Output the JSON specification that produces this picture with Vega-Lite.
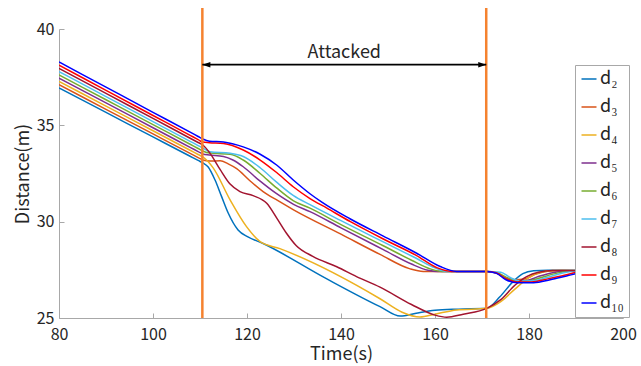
{
  "$schema": "https://vega.github.io/schema/vega-lite/v6.json",
  "width": 564,
  "height": 289,
  "autosize": {"type": "none"},
  "padding": {"left": 59, "top": 29, "right": 18, "bottom": 48},
  "config": {
    "view": {"stroke": null},
    "font": "Noto Sans CJK JP",
    "axis": {
      "domainColor": "#a8a8a8",
      "tickColor": "#a8a8a8",
      "tickSize": -5,
      "grid": false,
      "labelColor": "#262626",
      "titleColor": "#262626",
      "labelFont": "Noto Sans CJK JP",
      "titleFont": "Noto Sans CJK JP",
      "labelFontSize": 16,
      "titleFontSize": 18,
      "titleFontWeight": "normal"
    }
  },
  "datasets": {
    "series": [
      {"s":"d₂","t":80,"d":36.94},{"s":"d₂","t":90,"d":35.669},{"s":"d₂","t":100,"d":34.398},{"s":"d₂","t":108,"d":33.381},{"s":"d₂","t":109.6,"d":33.177},{"s":"d₂","t":110.6,"d":33.05},{"s":"d₂","t":111.7,"d":32.85},{"s":"d₂","t":113.2,"d":32.16},{"s":"d₂","t":114.6,"d":31.3},{"s":"d₂","t":116,"d":30.45},{"s":"d₂","t":118.1,"d":29.57},{"s":"d₂","t":120.2,"d":29.21},{"s":"d₂","t":123.2,"d":28.89},{"s":"d₂","t":136.6,"d":27.08},{"s":"d₂","t":148.3,"d":25.59},{"s":"d₂","t":152.6,"d":25.1},{"s":"d₂","t":156,"d":25.25},{"s":"d₂","t":160,"d":25.4},{"s":"d₂","t":165,"d":25.46},{"s":"d₂","t":171,"d":25.5},{"s":"d₂","t":173.8,"d":26.1},{"s":"d₂","t":176.6,"d":26.89},{"s":"d₂","t":178.7,"d":27.3},{"s":"d₂","t":181,"d":27.45},{"s":"d₂","t":184,"d":27.48},{"s":"d₂","t":200,"d":27.47},
      {"s":"d₃","t":80,"d":37.11},{"s":"d₃","t":90,"d":35.832},{"s":"d₃","t":100,"d":34.554},{"s":"d₃","t":108,"d":33.532},{"s":"d₃","t":109.6,"d":33.328},{"s":"d₃","t":110.6,"d":33.2},{"s":"d₃","t":112.1,"d":33.15},{"s":"d₃","t":114.3,"d":33.16},{"s":"d₃","t":116,"d":33.0},{"s":"d₃","t":117.8,"d":32.75},{"s":"d₃","t":120.5,"d":32.15},{"s":"d₃","t":123.5,"d":31.55},{"s":"d₃","t":126.5,"d":31.1},{"s":"d₃","t":130,"d":30.6},{"s":"d₃","t":140,"d":29.35},{"s":"d₃","t":148.3,"d":28.3},{"s":"d₃","t":154.7,"d":27.55},{"s":"d₃","t":157.5,"d":27.42},{"s":"d₃","t":171,"d":27.42},{"s":"d₃","t":173,"d":27.35},{"s":"d₃","t":175,"d":27.12},{"s":"d₃","t":177,"d":26.98},{"s":"d₃","t":179,"d":27.02},{"s":"d₃","t":181.5,"d":27.28},{"s":"d₃","t":184,"d":27.42},{"s":"d₃","t":187,"d":27.46},{"s":"d₃","t":200,"d":27.45},
      {"s":"d₄","t":80,"d":37.28},{"s":"d₄","t":90,"d":35.999},{"s":"d₄","t":100,"d":34.718},{"s":"d₄","t":108,"d":33.693},{"s":"d₄","t":109.6,"d":33.488},{"s":"d₄","t":110.6,"d":33.36},{"s":"d₄","t":112.8,"d":32.79},{"s":"d₄","t":116.4,"d":31.13},{"s":"d₄","t":119.9,"d":29.74},{"s":"d₄","t":122.8,"d":28.96},{"s":"d₄","t":127,"d":28.6},{"s":"d₄","t":148.3,"d":26.0},{"s":"d₄","t":153,"d":25.3},{"s":"d₄","t":156.8,"d":25.05},{"s":"d₄","t":160,"d":25.2},{"s":"d₄","t":164.6,"d":25.42},{"s":"d₄","t":171,"d":25.5},{"s":"d₄","t":174,"d":25.85},{"s":"d₄","t":177,"d":26.5},{"s":"d₄","t":180,"d":27.1},{"s":"d₄","t":182.5,"d":27.38},{"s":"d₄","t":185,"d":27.46},{"s":"d₄","t":200,"d":27.45},
      {"s":"d₅","t":80,"d":37.45},{"s":"d₅","t":90,"d":36.162},{"s":"d₅","t":100,"d":34.875},{"s":"d₅","t":108,"d":33.845},{"s":"d₅","t":109.6,"d":33.639},{"s":"d₅","t":110.6,"d":33.51},{"s":"d₅","t":112,"d":33.46},{"s":"d₅","t":115,"d":33.38},{"s":"d₅","t":117,"d":33.2},{"s":"d₅","t":119.2,"d":32.85},{"s":"d₅","t":122.8,"d":32.1},{"s":"d₅","t":126.3,"d":31.45},{"s":"d₅","t":129.9,"d":30.9},{"s":"d₅","t":133.4,"d":30.52},{"s":"d₅","t":140,"d":29.68},{"s":"d₅","t":149,"d":28.55},{"s":"d₅","t":155,"d":27.8},{"s":"d₅","t":158.5,"d":27.48},{"s":"d₅","t":160.5,"d":27.42},{"s":"d₅","t":171,"d":27.42},{"s":"d₅","t":173,"d":27.33},{"s":"d₅","t":175,"d":27.08},{"s":"d₅","t":177,"d":26.93},{"s":"d₅","t":179.5,"d":26.95},{"s":"d₅","t":182,"d":27.15},{"s":"d₅","t":185,"d":27.35},{"s":"d₅","t":188,"d":27.44},{"s":"d₅","t":200,"d":27.45},
      {"s":"d₆","t":80,"d":37.62},{"s":"d₆","t":90,"d":36.329},{"s":"d₆","t":100,"d":35.038},{"s":"d₆","t":108,"d":34.006},{"s":"d₆","t":109.6,"d":33.799},{"s":"d₆","t":110.6,"d":33.67},{"s":"d₆","t":112,"d":33.56},{"s":"d₆","t":116.4,"d":33.5},{"s":"d₆","t":119.2,"d":33.2},{"s":"d₆","t":122.8,"d":32.5},{"s":"d₆","t":126.3,"d":31.75},{"s":"d₆","t":129.9,"d":31.08},{"s":"d₆","t":133.4,"d":30.7},{"s":"d₆","t":140,"d":29.85},{"s":"d₆","t":149,"d":28.75},{"s":"d₆","t":155,"d":28.0},{"s":"d₆","t":159,"d":27.55},{"s":"d₆","t":161.5,"d":27.42},{"s":"d₆","t":171,"d":27.42},{"s":"d₆","t":173.5,"d":27.33},{"s":"d₆","t":175.5,"d":27.05},{"s":"d₆","t":178,"d":26.9},{"s":"d₆","t":180.5,"d":26.95},{"s":"d₆","t":183,"d":27.13},{"s":"d₆","t":186,"d":27.33},{"s":"d₆","t":189,"d":27.44},{"s":"d₆","t":200,"d":27.45},
      {"s":"d₇","t":80,"d":37.79},{"s":"d₇","t":90,"d":36.493},{"s":"d₇","t":100,"d":35.195},{"s":"d₇","t":108,"d":34.157},{"s":"d₇","t":109.6,"d":33.95},{"s":"d₇","t":110.6,"d":33.82},{"s":"d₇","t":112.1,"d":33.63},{"s":"d₇","t":116.4,"d":33.55},{"s":"d₇","t":119.2,"d":33.38},{"s":"d₇","t":122.8,"d":32.8},{"s":"d₇","t":126.3,"d":32.05},{"s":"d₇","t":129.9,"d":31.35},{"s":"d₇","t":133.4,"d":30.88},{"s":"d₇","t":140,"d":30.05},{"s":"d₇","t":149,"d":28.95},{"s":"d₇","t":156,"d":28.1},{"s":"d₇","t":160,"d":27.6},{"s":"d₇","t":162.5,"d":27.42},{"s":"d₇","t":171,"d":27.42},{"s":"d₇","t":174,"d":27.38},{"s":"d₇","t":176,"d":27.1},{"s":"d₇","t":178,"d":26.92},{"s":"d₇","t":181,"d":26.93},{"s":"d₇","t":184,"d":27.12},{"s":"d₇","t":187,"d":27.32},{"s":"d₇","t":190,"d":27.44},{"s":"d₇","t":200,"d":27.45},
      {"s":"d₈","t":80,"d":37.96},{"s":"d₈","t":90,"d":36.659},{"s":"d₈","t":100,"d":35.359},{"s":"d₈","t":108,"d":34.318},{"s":"d₈","t":109.6,"d":34.11},{"s":"d₈","t":110.6,"d":33.98},{"s":"d₈","t":112.1,"d":33.56},{"s":"d₈","t":114.3,"d":32.7},{"s":"d₈","t":116.4,"d":31.95},{"s":"d₈","t":118.5,"d":31.56},{"s":"d₈","t":121.3,"d":31.35},{"s":"d₈","t":124.2,"d":30.95},{"s":"d₈","t":126.3,"d":30.2},{"s":"d₈","t":128.4,"d":29.4},{"s":"d₈","t":130.5,"d":28.75},{"s":"d₈","t":134,"d":28.2},{"s":"d₈","t":139.1,"d":27.66},{"s":"d₈","t":143.3,"d":27.15},{"s":"d₈","t":148.3,"d":26.6},{"s":"d₈","t":155,"d":25.7},{"s":"d₈","t":160,"d":25.15},{"s":"d₈","t":162.5,"d":25.04},{"s":"d₈","t":166,"d":25.2},{"s":"d₈","t":171,"d":25.5},{"s":"d₈","t":174,"d":25.95},{"s":"d₈","t":177,"d":26.7},{"s":"d₈","t":179.5,"d":27.15},{"s":"d₈","t":182,"d":27.38},{"s":"d₈","t":185,"d":27.46},{"s":"d₈","t":200,"d":27.45},
      {"s":"d₉","t":80,"d":38.12},{"s":"d₉","t":90,"d":36.816},{"s":"d₉","t":100,"d":35.512},{"s":"d₉","t":108,"d":34.469},{"s":"d₉","t":109.6,"d":34.26},{"s":"d₉","t":110.6,"d":34.13},{"s":"d₉","t":112,"d":34.1},{"s":"d₉","t":115,"d":34.06},{"s":"d₉","t":119.2,"d":33.72},{"s":"d₉","t":122.8,"d":33.2},{"s":"d₉","t":126.3,"d":32.55},{"s":"d₉","t":129.9,"d":31.8},{"s":"d₉","t":133.4,"d":31.2},{"s":"d₉","t":137,"d":30.7},{"s":"d₉","t":142,"d":30.0},{"s":"d₉","t":149,"d":29.1},{"s":"d₉","t":156,"d":28.25},{"s":"d₉","t":160.5,"d":27.6},{"s":"d₉","t":163.5,"d":27.42},{"s":"d₉","t":171,"d":27.42},{"s":"d₉","t":173,"d":27.35},{"s":"d₉","t":175,"d":27.05},{"s":"d₉","t":177.5,"d":26.87},{"s":"d₉","t":180.5,"d":26.87},{"s":"d₉","t":184,"d":27.03},{"s":"d₉","t":187.5,"d":27.22},{"s":"d₉","t":191,"d":27.4},{"s":"d₉","t":200,"d":27.45},
      {"s":"d₁₀","t":80,"d":38.29},{"s":"d₁₀","t":90,"d":36.983},{"s":"d₁₀","t":100,"d":35.676},{"s":"d₁₀","t":108,"d":34.631},{"s":"d₁₀","t":109.6,"d":34.421},{"s":"d₁₀","t":110.6,"d":34.29},{"s":"d₁₀","t":112,"d":34.18},{"s":"d₁₀","t":115,"d":34.14},{"s":"d₁₀","t":119.2,"d":33.88},{"s":"d₁₀","t":122.8,"d":33.5},{"s":"d₁₀","t":126.3,"d":32.94},{"s":"d₁₀","t":129.9,"d":32.15},{"s":"d₁₀","t":133.4,"d":31.45},{"s":"d₁₀","t":136,"d":31.0},{"s":"d₁₀","t":141.9,"d":30.15},{"s":"d₁₀","t":149,"d":29.25},{"s":"d₁₀","t":156.1,"d":28.36},{"s":"d₁₀","t":161.1,"d":27.67},{"s":"d₁₀","t":164.6,"d":27.42},{"s":"d₁₀","t":171,"d":27.42},{"s":"d₁₀","t":173,"d":27.33},{"s":"d₁₀","t":175,"d":27.0},{"s":"d₁₀","t":177.5,"d":26.83},{"s":"d₁₀","t":181,"d":26.83},{"s":"d₁₀","t":184.5,"d":26.98},{"s":"d₁₀","t":188,"d":27.18},{"s":"d₁₀","t":191.5,"d":27.38},{"s":"d₁₀","t":195,"d":27.45},{"s":"d₁₀","t":200,"d":27.45}
    ],
    "attack": [{"t": 110.5}, {"t": 170.9}],
    "arrow": [{"t1": 110.5, "t2": 170.9, "d": 38.15}],
    "heads": [{"t": 110.5, "d": 38.15, "k": "left"}, {"t": 170.9, "d": 38.15, "k": "right"}],
    "label": [{"t": 140.7, "d": 38.5, "txt": "Attacked"}]
  },
  "layer": [
    {
      "data": {"name": "series"},
      "mark": {"type": "line", "interpolate": "monotone", "strokeWidth": 1.5, "clip": true},
      "encoding": {
        "x": {"field": "t", "type": "quantitative", "scale": {"domain": [80, 200], "nice": false, "zero": false},
              "axis": {"values": [80, 100, 120, 140, 160, 180, 200], "title": "Time(s)", "labelPadding": 13, "titlePadding": 3, "labelFlush": false}},
        "y": {"field": "d", "type": "quantitative", "scale": {"domain": [25, 40], "nice": false, "zero": false},
              "axis": {"values": [25, 30, 35, 40], "title": "Distance(m)", "labelPadding": 10, "titlePadding": 4}},
        "color": {
          "field": "s", "type": "nominal",
          "scale": {"domain": ["d₂","d₃","d₄","d₅","d₆","d₇","d₈","d₉","d₁₀"],
                    "range": ["#0072BD","#D95319","#EDB120","#7E2F8E","#77AC30","#4DBEEE","#A2142F","#FF0000","#0000FF"]},
          "legend": {
            "orient": "none", "legendX": 516, "legendY": 36, "title": null,
            "symbolType": "stroke", "symbolSize": 225, "symbolStrokeWidth": 1.5,
            "labelFontSize": 18, "labelFont": "Noto Sans CJK JP", "labelColor": "#262626", "labelOffset": 2,
            "rowPadding": 10, "padding": 5, "fillColor": "white", "strokeColor": "#a8a8a8"
          }
        },
        "order": {"field": "t", "type": "quantitative"}
      }
    },
    {
      "data": {"name": "attack"},
      "mark": {"type": "rule", "color": "#F5822F", "strokeWidth": 2.5},
      "encoding": {
        "x": {"field": "t", "type": "quantitative"},
        "y": {"datum": 25},
        "y2": {"datum": 41.09}
      }
    },
    {
      "data": {"name": "arrow"},
      "mark": {"type": "rule", "color": "black", "strokeWidth": 1.8},
      "encoding": {
        "x": {"field": "t1", "type": "quantitative"},
        "x2": {"field": "t2"},
        "y": {"field": "d", "type": "quantitative"}
      }
    },
    {
      "data": {"name": "heads"},
      "mark": {"type": "point", "filled": true, "color": "black", "size": 25, "opacity": 1},
      "encoding": {
        "x": {"field": "t", "type": "quantitative"},
        "y": {"field": "d", "type": "quantitative"},
        "shape": {"field": "k", "type": "nominal",
                  "scale": {"domain": ["left", "right"], "range": ["M0,0L3.2,-1.1L3.2,1.1Z", "M0,0L-3.2,-1.1L-3.2,1.1Z"]},
                  "legend": null}
      }
    },
    {
      "data": {"name": "label"},
      "mark": {"type": "text", "font": "Noto Sans CJK JP", "fontSize": 18, "color": "#262626", "baseline": "alphabetic", "align": "center"},
      "encoding": {
        "x": {"field": "t", "type": "quantitative"},
        "y": {"field": "d", "type": "quantitative"},
        "text": {"field": "txt"}
      }
    }
  ]
}
